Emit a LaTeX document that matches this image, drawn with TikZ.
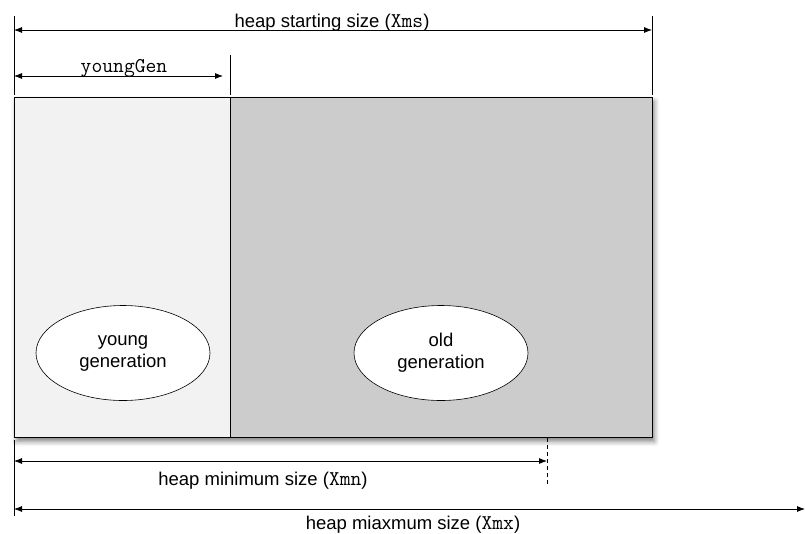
\documentclass[tikz,border=0pt]{standalone}
\usepackage{fontspec}
\setmainfont{Liberation Sans}
\usetikzlibrary{arrows.meta,shapes.geometric,shadows.blur}
\newcommand{\mymono}[1]{{\fontsize{21}{22}\selectfont\ttfamily #1}}
\tikzset{
  dim/.style={line width=0.8pt,{Latex[length=8pt,width=6pt]}-{Latex[length=8pt,width=6pt]}},
  tick/.style={line width=0.5pt},
  lbl/.style={font=\fontsize{18.5}{20}\selectfont,inner sep=0pt,anchor=base},
  gen/.style={ellipse,draw,fill=white,line width=0.6pt,minimum width=174pt,minimum height=95pt,inner sep=0pt,align=center,font=\fontsize{18.5}{22}\selectfont}
}
\begin{document}
\begin{tikzpicture}[x=1pt,y=-1pt]
\useasboundingbox (0,0) rectangle (805,533);
% heap box
\node[draw,line width=0.8pt,fill=black!20,minimum width=638pt,minimum height=340pt,inner sep=0pt,anchor=north west,
  blur shadow={shadow xshift=2pt,shadow yshift=-4pt,shadow blur radius=5pt,shadow opacity=50}] (heap) at (14,97) {};
\fill[black!5] (heap.north west) rectangle (230,437);
\coordinate (ytop) at (230,97);
\coordinate (ybot) at (230,437);
\draw[line width=0.8pt] (heap.north west) rectangle (heap.south east);
\draw[line width=0.6pt] (ytop) -- (ybot);
\node[gen] (young) at (123,353) {young\\generation};
\node[gen] (old) at (441,353) {old\\generation};
% ticks
\coordinate (lt1) at (14,16);
\coordinate (lt2) at (14,95);
\coordinate (rt1) at (652,16);
\coordinate (rt2) at (652,95);
\coordinate (yt1) at (230,55);
\coordinate (yt2) at (230,95);
\coordinate (lb1) at (14,440);
\coordinate (lb2) at (14,516);
\coordinate (mn1) at (547,438);
\coordinate (mn2) at (547,484);
\draw[tick] (lt1) -- (lt2);
\draw[tick] (rt1) -- (rt2);
\draw[tick] (yt1) -- (yt2);
\draw[tick] (lb1) -- (lb2);
\draw[tick,dash pattern=on 4pt off 3pt] (mn1) -- (mn2);
% dimension arrows
\coordinate (a1) at (14,30);
\coordinate (a2) at (652,30);
\draw[dim] (a1) -- (a2);
\node[lbl] (xms) at (332,27) {heap starting size (\mymono{Xms})};
\coordinate (b1) at (14,76);
\coordinate (b2) at (223,76);
\draw[dim] (b1) -- (b2);
\node[lbl] (yg) at (124,72) {\mymono{youngGen}};
\coordinate (c1) at (14,461);
\coordinate (c2) at (547,461);
\draw[dim] (c1) -- (c2);
\node[lbl] (xmn) at (263,485) {heap minimum size (\mymono{Xmn})};
\coordinate (d1) at (14,509);
\coordinate (d2) at (805,509);
\draw[dim] (d1) -- (d2);
\node[lbl] (xmx) at (413,529) {heap miaxmum size (\mymono{Xmx})};
\end{tikzpicture}
\end{document}
